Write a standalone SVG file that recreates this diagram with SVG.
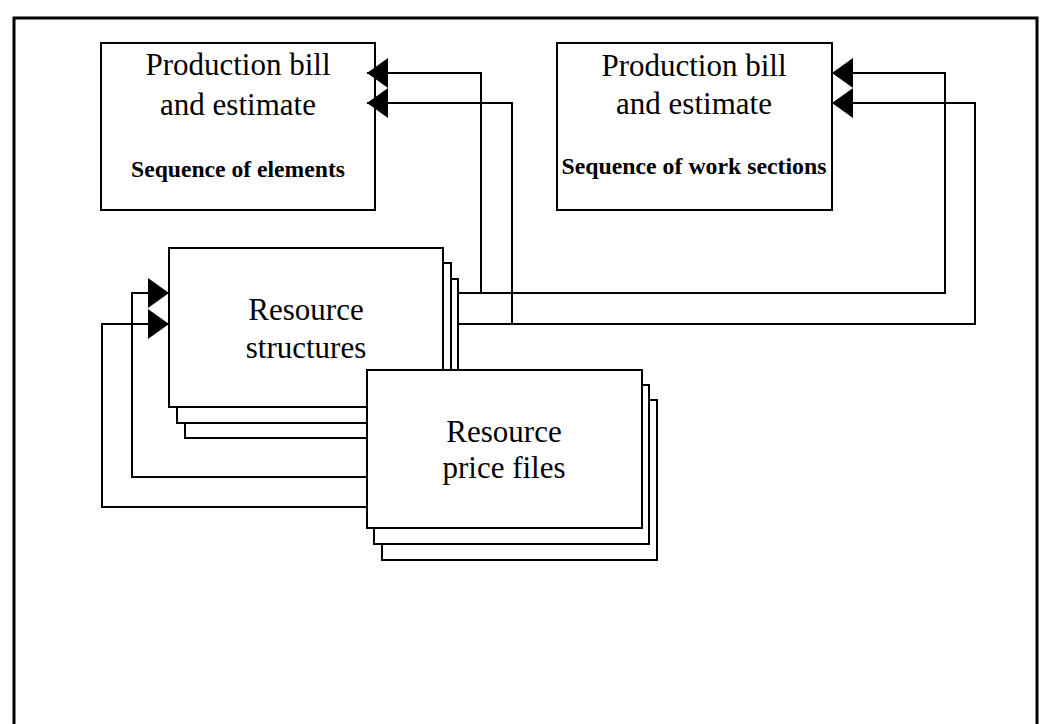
<svg xmlns="http://www.w3.org/2000/svg" width="1042" height="724" viewBox="0 0 1042 724">
  <style>
    .frame { fill: none; stroke: #000; stroke-width: 3; }
    .box { fill: #fff; stroke: #000; stroke-width: 2; }
    .wire { fill: none; stroke: #000; stroke-width: 2; marker-end: url(#head); }
    .title { font-family: "Liberation Serif", "Times New Roman", serif; font-size: 31px; fill: #000; text-anchor: middle; }
    .sub { font-family: "Liberation Serif", "Times New Roman", serif; font-size: 23px; font-weight: bold; fill: #000; text-anchor: middle; }
  </style>
  <defs>
    <marker id="head" markerUnits="userSpaceOnUse" markerWidth="21" markerHeight="30" refX="21" refY="15" orient="auto">
      <path d="M0,0 L21,15 L0,30 Z" fill="#000"/>
    </marker>
  </defs>

  <rect width="1042" height="724" fill="#fff"/>
  <!-- outer frame, open at the bottom -->
  <path class="frame" d="M14,730 V18 H1037 V730"/>

  <!-- estimate by elements -->
  <g id="bill-elements">
    <rect class="box" x="101" y="43" width="274" height="167"/>
    <text class="title" x="238" y="75">Production bill</text>
    <text class="title" x="238" y="115">and estimate</text>
    <text class="sub" x="238" y="177" textLength="214" lengthAdjust="spacingAndGlyphs">Sequence of elements</text>
  </g>

  <!-- estimate by work sections -->
  <g id="bill-work-sections">
    <rect class="box" x="557" y="43" width="275" height="167"/>
    <text class="title" x="694" y="76">Production bill</text>
    <text class="title" x="694" y="114">and estimate</text>
    <text class="sub" x="694" y="174" textLength="265" lengthAdjust="spacingAndGlyphs">Sequence of work sections</text>
  </g>

  <!-- stacked resource structure files -->
  <g id="resource-structures">
    <rect class="box" x="185" y="279" width="273" height="159"/>
    <rect class="box" x="177" y="263" width="274" height="160"/>
    <rect class="box" x="169" y="248" width="274" height="159"/>
    <text class="title" x="306" y="320">Resource</text>
    <text class="title" x="306" y="358">structures</text>
  </g>

  <g id="connectors">
    <path class="wire" d="M459,293 H481 V73 H367"/>
    <path class="wire" d="M459,324 H512 V103 H367"/>
    <path class="wire" d="M459,293 H945 V73 H832"/>
    <path class="wire" d="M459,324 H975 V103 H832"/>
    <path class="wire" d="M367,477 H132 V293 H169"/>
    <path class="wire" d="M367,507 H102 V324 H169"/>
  </g>

  <!-- stacked resource price files -->
  <g id="resource-price-files">
    <rect class="box" x="382" y="400" width="275" height="160"/>
    <rect class="box" x="374" y="385" width="275" height="159"/>
    <rect class="box" x="367" y="370" width="275" height="158"/>
    <text class="title" x="504" y="442">Resource</text>
    <text class="title" x="504" y="478">price files</text>
  </g>
</svg>
